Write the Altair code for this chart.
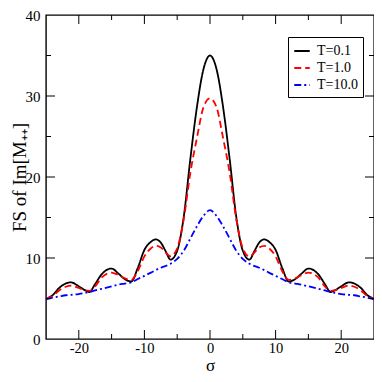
import altair as alt
import pandas as pd

sigma = [-25, -24, -23, -22, -21.2, -20, -19, -18.4, -17.5, -16.5, -15, -14, -13, -12,
         -11, -10, -9, -8.3, -7.5, -6.8, -6, -5, -4, -3, -2, -1, 0,
         1, 2, 3, 4, 5, 6, 6.8, 7.5, 8.3, 9, 10, 11,
         12, 13, 14, 15, 16.5, 17.5, 18.4, 19, 20, 21.2, 22, 23, 24, 25]

fs_t01 = [5.0, 5.4, 6.3, 6.85, 7.0, 6.5, 6.0, 5.8, 6.8, 8.0, 8.7, 8.1, 7.4, 7.1,
          8.8, 11.0, 12.0, 12.3, 11.9, 10.9, 9.8, 10.9, 15.1, 22.2, 28.6, 33.3, 35.0,
          33.3, 28.6, 22.2, 15.1, 10.9, 9.8, 10.9, 11.9, 12.3, 12.0, 11.0, 8.8,
          7.1, 7.4, 8.1, 8.7, 8.0, 6.8, 5.8, 6.0, 6.5, 7.0, 6.85, 6.3, 5.4, 5.0]

fs_t1 = [5.0, 5.3, 6.0, 6.45, 6.6, 6.3, 6.0, 5.95, 6.5, 7.6, 8.2, 7.9, 7.5, 7.3,
         8.4, 10.2, 11.2, 11.5, 11.3, 10.7, 10.2, 11.2, 14.8, 20.5, 24.8, 28.6, 29.7,
         28.6, 24.8, 20.5, 14.8, 11.2, 10.2, 10.7, 11.3, 11.5, 11.2, 10.2, 8.4,
         7.3, 7.5, 7.9, 8.2, 7.6, 6.5, 5.95, 6.0, 6.3, 6.6, 6.45, 6.0, 5.3, 5.0]

fs_t10 = [4.9, 5.1, 5.25, 5.4, 5.45, 5.55, 5.7, 5.8, 6.0, 6.2, 6.5, 6.7, 6.85, 7.0,
          7.4, 7.8, 8.2, 8.5, 8.8, 9.0, 9.3, 9.9, 10.9, 12.4, 13.9, 15.2, 15.9,
          15.2, 13.9, 12.4, 10.9, 9.9, 9.3, 9.0, 8.8, 8.5, 8.2, 7.8, 7.4,
          7.0, 6.85, 6.7, 6.5, 6.2, 6.0, 5.8, 5.7, 5.55, 5.45, 5.4, 5.25, 5.1, 4.9]

series_labels = ["T=0.1", "T=1.0", "T=10.0"]
series_colors = ["#000000", "#ff0000", "#0000ff"]
series_dashes = [[1, 0], [7, 4], [7, 3, 2, 3]]

x_major = [-20, -10, 0, 10, 20]
y_major = [0, 10, 20, 30, 40]
x_major_ticks = [-20, -10, 0, 10, 20]
x_minor_ticks = [-15, -5, 5, 15]
y_major_ticks = [10, 20, 30]
y_minor_ticks = [5, 15, 25, 35]

rows = []
for lab, vals in zip(series_labels, [fs_t01, fs_t1, fs_t10]):
    for s, v in zip(sigma, vals):
        rows.append({"sigma": s, "fs": v, "series": lab})
df = pd.DataFrame(rows)

W, H = 328, 324
MAJOR, MINOR = 9, 5
FONT = "Liberation Serif"
xs = alt.Scale(domain=[-25, 25], nice=False, zero=False)
ys = alt.Scale(domain=[0, 40], nice=False, zero=False)

x_axis = alt.Axis(
    values=x_major, labelExpr="''+datum.value", ticks=False, domain=False, grid=False,
    title="σ", titleFont=FONT, titleFontSize=17, titleFontWeight="normal",
    titleColor="black", titleX=W / 2, titleY=35, titleBaseline="bottom",
    labelFont=FONT, labelFontSize=14.5, labelColor="black", labelPadding=2)
y_axis = alt.Axis(
    values=y_major, labelExpr="''+datum.value", ticks=False, domain=False, grid=False,
    title="FS of Im[M₊₊]", titleFont=FONT, titleFontSize=19, titleFontWeight="normal",
    titleColor="black", titleX=-27, titleY=H / 2, titleAngle=270,
    titleAlign="center", titleBaseline="middle",
    labelFont=FONT, labelFontSize=15, labelColor="black", labelPadding=6)

legend = alt.Legend(
    title="", orient="none", legendX=242, legendY=22,
    strokeColor="black", fillColor="white", padding=5,
    symbolType="stroke", symbolSize=240, symbolStrokeWidth=2,
    labelFont=FONT, labelFontSize=14, labelColor="black",
    labelOffset=6, rowPadding=1,
)

lines = alt.Chart(df).mark_line(interpolate="monotone", strokeWidth=1.8).encode(
    x=alt.X("sigma:Q", scale=xs, axis=x_axis),
    y=alt.Y("fs:Q", scale=ys, axis=y_axis),
    color=alt.Color("series:N", scale=alt.Scale(domain=series_labels, range=series_colors),
                    legend=legend),
    strokeDash=alt.StrokeDash("series:N", scale=alt.Scale(domain=series_labels, range=series_dashes),
                              legend=legend),
)


def x_ticks_at(values, y0, y1):
    return alt.Chart(pd.DataFrame({"sigma": values})).mark_rule(color="black", strokeWidth=1).encode(
        x=alt.X("sigma:Q", scale=xs, axis=x_axis),
        y=alt.value(y0), y2=alt.value(y1),
    )


def y_ticks_at(values, x0, x1):
    return alt.Chart(pd.DataFrame({"fs": values})).mark_rule(color="black", strokeWidth=1).encode(
        y=alt.Y("fs:Q", scale=ys, axis=y_axis),
        x=alt.value(x0), x2=alt.value(x1),
    )


chart = alt.layer(
    lines,
    x_ticks_at(x_major_ticks, H, H - MAJOR), x_ticks_at(x_minor_ticks, H, H - MINOR),
    x_ticks_at(x_major_ticks, 0, MAJOR), x_ticks_at(x_minor_ticks, 0, MINOR),
    y_ticks_at(y_major_ticks, 0, MAJOR), y_ticks_at(y_minor_ticks, 0, MINOR),
    y_ticks_at(y_major_ticks, W, W - MAJOR), y_ticks_at(y_minor_ticks, W, W - MINOR),
).properties(
    width=W, height=H,
    autosize=alt.AutoSizeParams(type="none"),
    padding={"left": 38, "top": 7, "right": 0, "bottom": 35},
    background="white",
).configure_view(stroke="black", strokeWidth=1.4)

chart.save("out.html", embed_options={"renderer": "svg", "actions": False})
